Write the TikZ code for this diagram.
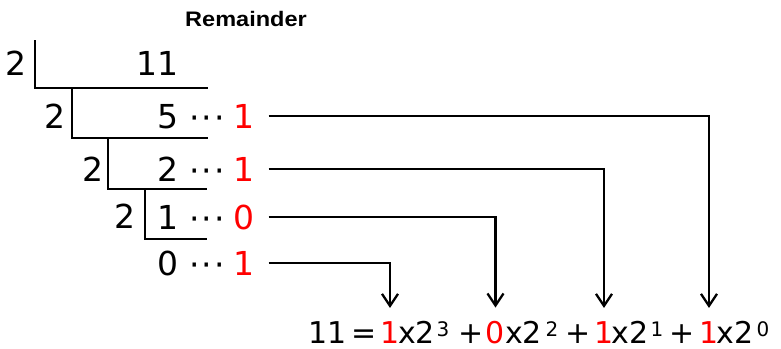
\documentclass[tikz,border=0pt]{standalone}
\usepackage{fontspec}
\setmainfont{DejaVu Sans}
\newfontfamily\hdfont{Liberation Sans}
\usetikzlibrary{arrows.meta}
\definecolor{remred}{RGB}{255,0,0}
\begin{document}
\begin{tikzpicture}[x=1pt,y=-1pt,
 num/.style={anchor=base,inner sep=0pt,font=\fontsize{33}{33}\selectfont},
 quot/.style={num,anchor=base east},
 rem/.style={num,text=remred},
 dots/.style={num},
 eq/.style={anchor=base,inner sep=0pt,font=\fontsize{30}{30}\selectfont},
 eqred/.style={eq,text=remred},
 sup/.style={anchor=base,inner sep=0pt,font=\fontsize{20}{20}\selectfont},
 bar/.style={line width=2.3pt},
 conn/.style={line width=2.3pt,-{Straight Barb[length=12pt,width=16pt,line width=2.3pt]},shorten <=14pt,shorten >=13pt}]
\useasboundingbox (0,0) rectangle (781,348);
% header
\node[anchor=base,inner sep=0pt,font=\hdfont\bfseries\fontsize{21}{21}\selectfont] (hd) at (246,27) {\scalebox{1.12}[1]{Remainder}};
% divisors
\node[num] (d1) at (16,75) {2};
\node[num] (d2) at (55,128) {2};
\node[num] (d3) at (93,181) {2};
\node[num] (d4) at (125,228) {2};
% quotients
\node[quot] (q0) at (179,75) {11};
\node[quot] (q1) at (179,128) {5};
\node[quot] (q2) at (179,181) {2};
\node[quot] (q3) at (179,229) {1};
\node[quot] (q4) at (179,275) {0};
% dots
\node[dots] (p1) at (207,129) {·\kern2pt·\kern2pt·};
\node[dots] (p2) at (207,182) {·\kern2pt·\kern2pt·};
\node[dots] (p3) at (207,230) {·\kern2pt·\kern2pt·};
\node[dots] (p4) at (207,276) {·\kern2pt·\kern2pt·};
% remainders
\node[rem] (r1) at (244,128) {1};
\node[rem] (r2) at (244,181) {1};
\node[rem] (r3) at (244,229) {0};
\node[rem] (r4) at (244,275) {1};
% division brackets
\draw[bar] (35,40) -- (35,88) -- (208,88);
\draw[bar] (72,88) -- (72,138) -- (208,138);
\draw[bar] (108,138) -- (108,189) -- (207,189);
\draw[bar] (145,189) -- (145,239) -- (207,239);
% equation
\node[eq] (e11) at (328,343) {11};
\node[eq] (eeq) at (364,343) {=};
\node[eqred] (e3) at (390,343) {1};
\node[eq] (x3) at (416.5,343) {x2};
\node[sup] (s3) at (443,336) {3};
\node[eq] (pl3) at (471,343) {+};
\node[eqred] (e2) at (495.5,343) {0};
\node[eq] (x2) at (523.5,343) {x2};
\node[sup] (s2) at (552,336) {2};
\node[eq] (pl2) at (578.5,343) {+};
\node[eqred] (e1) at (604,343) {1};
\node[eq] (x1) at (630,343) {x2};
\node[sup] (s1) at (657,336) {1};
\node[eq] (pl1) at (682.5,343) {+};
\node[eqred] (e0) at (709,343) {1};
\node[eq] (x0) at (735,343) {x2};
\node[sup] (s0) at (763,336) {0};
% connectors
\draw[conn] (r1.east) -| (e0.north);
\draw[conn] (r2.east) -| (e1.north);
\draw[conn] (r3.east) -| (e2.north);
\draw[conn] (r4.east) -| (e3.north);
\end{tikzpicture}
\end{document}
